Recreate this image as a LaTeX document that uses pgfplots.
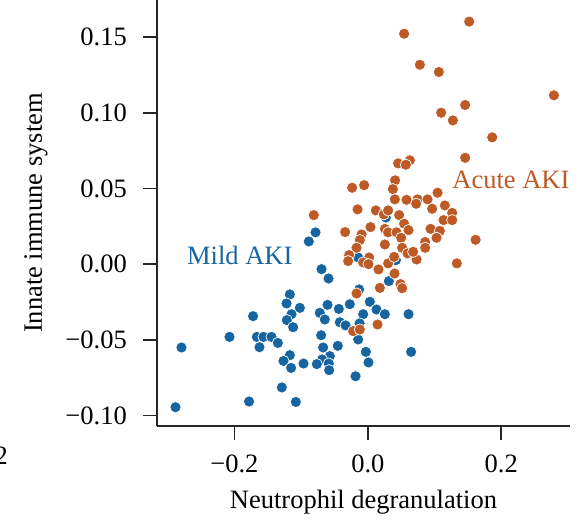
\documentclass[border=0pt]{standalone}
\usepackage{fontspec}
\setmainfont{Liberation Serif}
\usepackage{pgfplots}
\pgfplotsset{compat=1.18}
\definecolor{mildblue}{HTML}{1765A0}
\definecolor{acuteorange}{HTML}{BD5A26}
\definecolor{spine}{HTML}{262626}
\begin{document}
\begin{tikzpicture}[x=1pt,y=1pt,font=\fontsize{26.5}{30}\selectfont]
\begin{axis}[
  at={(157pt,94pt)}, anchor=south west, scale only axis,
  width=413pt, height=426pt,
  xmin=-0.316, xmax=0.303, ymin=-0.107, ymax=0.1746,
  axis x line*=bottom, axis y line*=left,
  axis line style={spine, line width=1.6pt},
  tick align=outside, major tick length=14pt,
  tick style={spine, line width=1.6pt},
  xtick={-0.2,0,0.2}, xticklabels={−0.2,0.0,0.2},
  ytick={-0.1,-0.05,0,0.05,0.1,0.15},
  yticklabels={−0.10,−0.05,0.00,0.05,0.10,0.15},
  tick label style={font=\fontsize{26.5}{30}\selectfont, text=black},
  xticklabel style={font=\fontsize{26.5}{30}\selectfont, anchor=north, inner sep=0pt, yshift=-15pt},
  yticklabel style={font=\fontsize{26.5}{30}\selectfont, anchor=east, inner sep=0pt, xshift=-16pt},
  xlabel={Neutrophil degranulation}, ylabel={Innate immune system},
  xlabel style={at={(axis description cs:0.5,-0.1948)}, anchor=base},
  ylabel style={at={(axis description cs:-0.2785,0.5)}, anchor=base, rotate=0},
  clip=false,
]
\addplot[only marks, mark=*, mark size=5.6pt, mark options={fill=mildblue, draw=white, line width=0.7pt}] coordinates {
(-0.0784,0.0210) (-0.0885,0.0150) (-0.0694,-0.0033) (-0.0589,-0.0095)
(-0.1169,-0.0200) (-0.1219,-0.0260) (-0.1019,-0.0289) (-0.1144,-0.0331)
(-0.1214,-0.0370) (-0.1120,-0.0417) (-0.1720,-0.0344) (-0.2073,-0.0481)
(-0.1664,-0.0481) (-0.1564,-0.0481) (-0.1444,-0.0481) (-0.1349,-0.0521)
(-0.1624,-0.0549) (-0.2793,-0.0551) (-0.1169,-0.0602) (-0.1264,-0.0640)
(-0.1150,-0.0686) (-0.0964,-0.0657) (-0.1289,-0.0815) (-0.1780,-0.0908)
(-0.1079,-0.0911) (-0.2883,-0.0946) (-0.0700,-0.0470) (-0.0670,-0.0551)
(-0.0570,-0.0608) (-0.0685,-0.0630) (-0.0765,-0.0661) (-0.0585,-0.0657)
(-0.0580,-0.0701) (-0.0450,-0.0540) (-0.0184,-0.0741) (-0.0720,-0.0322)
(-0.0604,-0.0269) (-0.0645,-0.0366) (-0.0435,-0.0296) (-0.0420,-0.0384)
(-0.0334,-0.0405) (-0.0270,-0.0265) (-0.0130,-0.0167) (-0.0070,-0.0331)
(-0.0124,-0.0392) (-0.0145,-0.0498) (-0.0030,-0.0580) (0.0010,-0.0650)
(0.0030,-0.0249) (0.0130,-0.0300) (0.0255,-0.0331) (0.0315,-0.0112)
(0.0610,-0.0331) (0.0649,-0.0580) (-0.0145,0.0044) (0.0420,0.0026)
(0.0270,0.0308)
};
\addplot[only marks, mark=*, mark size=5.6pt, mark options={fill=acuteorange, draw=white, line width=0.7pt}] coordinates {
(0.1519,0.1603) (0.0544,0.1523) (0.0780,0.1318) (0.1064,0.1270)
(0.2789,0.1116) (0.1459,0.1052) (0.1099,0.1001) (0.1274,0.0950)
(0.1864,0.0838) (0.1459,0.0703) (0.0454,0.0666) (0.0630,0.0686)
(0.0570,0.0657) (0.0409,0.0554) (-0.0235,0.0505) (-0.0055,0.0522)
(0.0375,0.0496) (0.1045,0.0472) (0.0405,0.0428) (0.0580,0.0425)
(0.0745,0.0428) (0.0724,0.0399) (0.0895,0.0428) (0.1154,0.0388)
(0.0964,0.0366) (0.1264,0.0339) (-0.0154,0.0362) (0.0120,0.0355)
(0.0240,0.0329) (0.0304,0.0355) (0.0469,0.0324) (-0.0810,0.0324)
(0.1135,0.0291) (0.1264,0.0291) (0.0040,0.0245) (0.0544,0.0267)
(0.0610,0.0225) (0.0255,0.0233) (0.0304,0.0210) (0.0430,0.0210)
(-0.0340,0.0212) (-0.0094,0.0196) (-0.0120,0.0159) (0.0940,0.0233)
(0.1079,0.0220) (0.1030,0.0174) (0.0499,0.0174) (0.0859,0.0146)
(0.0859,0.0108) (0.1615,0.0161) (0.0255,0.0130) (0.0514,0.0108)
(-0.0169,0.0108) (-0.0280,0.0060) (-0.0295,0.0020) (0.0019,0.0044)
(-0.0070,0.0011) (0.0010,0.0000) (0.0160,-0.0035) (0.0304,0.0005)
(0.0394,0.0048) (0.0595,0.0071) (0.0730,0.0031) (0.0679,0.0081)
(0.0400,-0.0062) (0.0490,-0.0132) (0.0180,-0.0157) (0.1334,0.0005)
(-0.0169,-0.0194) (-0.0220,-0.0443) (-0.0120,-0.0432) (0.0145,-0.0399)
(0.0514,-0.0159)
};
\node[text=mildblue] at (axis cs:-0.192,0.006) {Mild AKI};
\node[text=acuteorange] at (axis cs:0.2144,0.0556) {Acute AKI};
\end{axis}
\node[anchor=base east, inner sep=0pt] at (8,56) {2};
\pgfresetboundingbox
\path[use as bounding box] (0,0) rectangle (576,520);
\end{tikzpicture}
\end{document}
